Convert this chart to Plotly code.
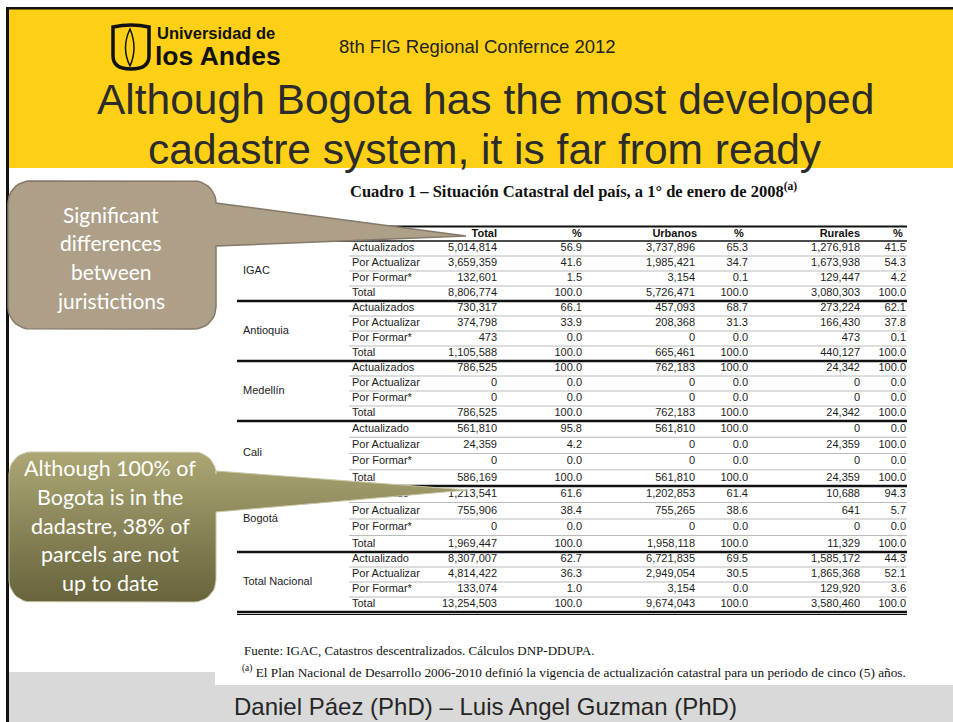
import numpy as np
import plotly.graph_objects as go

# ------------------------------------------------------------------ data
groups = ["IGAC", "Antioquia", "Medellín", "Cali", "Bogotá", "Total Nacional"]
row_labels = [
    ["Actualizados", "Por Actualizar", "Por Formar*", "Total"],
    ["Actualizados", "Por Actualizar", "Por Formar*", "Total"],
    ["Actualizados", "Por Actualizar", "Por Formar*", "Total"],
    ["Actualizado", "Por Actualizar", "Por Formar*", "Total"],
    ["Actualizado", "Por Actualizar", "Por Formar*", "Total"],
    ["Actualizado", "Por Actualizar", "Por Formar*", "Total"],
]
col_headers = ["Total", "%", "Urbanos", "%", "Rurales", "%"]

total_vals = [5014814, 3659359, 132601, 8806774,
              730317, 374798, 473, 1105588,
              786525, 0, 0, 786525,
              561810, 24359, 0, 586169,
              1213541, 755906, 0, 1969447,
              8307007, 4814422, 133074, 13254503]
total_pct = [56.9, 41.6, 1.5, 100.0,
             66.1, 33.9, 0.0, 100.0,
             100.0, 0.0, 0.0, 100.0,
             95.8, 4.2, 0.0, 100.0,
             61.6, 38.4, 0.0, 100.0,
             62.7, 36.3, 1.0, 100.0]
urban_vals = [3737896, 1985421, 3154, 5726471,
              457093, 208368, 0, 665461,
              762183, 0, 0, 762183,
              561810, 0, 0, 561810,
              1202853, 755265, 0, 1958118,
              6721835, 2949054, 3154, 9674043]
urban_pct = [65.3, 34.7, 0.1, 100.0,
             68.7, 31.3, 0.0, 100.0,
             100.0, 0.0, 0.0, 100.0,
             100.0, 0.0, 0.0, 100.0,
             61.4, 38.6, 0.0, 100.0,
             69.5, 30.5, 0.0, 100.0]
rural_vals = [1276918, 1673938, 129447, 3080303,
              273224, 166430, 473, 440127,
              24342, 0, 0, 24342,
              0, 24359, 0, 24359,
              10688, 641, 0, 11329,
              1585172, 1865368, 129920, 3580460]
rural_pct = [41.5, 54.3, 4.2, 100.0,
             62.1, 37.8, 0.1, 100.0,
             100.0, 0.0, 0.0, 100.0,
             0.0, 100.0, 0.0, 100.0,
             94.3, 5.7, 0.0, 100.0,
             44.3, 52.1, 3.6, 100.0]

slide_title = ["Although Bogota has the most developed",
               "cadastre system, it is far from ready"]
conference = "8th FIG Regional Confernce 2012"
table_title = "Cuadro 1 – Situación Catastral del país, a 1° de enero de 2008"
footnotes = ["Fuente: IGAC, Catastros descentralizados. Cálculos DNP-DDUPA.",
             "El Plan Nacional de Desarrollo 2006-2010 definió la vigencia de actualización catastral para un periodo de cinco (5) años."]
callout1 = ["Significant", "differences", "between", "juristictions"]
callout2 = ["Although 100% of", "Bogota is in the", "dadastre, 38% of",
            "parcels are not", "up to date"]
authors = "Daniel Páez (PhD) – Luis Angel Guzman (PhD)"

# ------------------------------------------------------------------ layout constants
W, H = 953, 722
group_bounds = [241, 301, 361, 421, 486, 552, 612]
col_right = [497, 582, 695, 748, 860, 906]
hdr_x = [497, 572, 697, 734, 860, 893]
hdr_pos = ["middle left", "middle right", "middle left", "middle right", "middle left", "middle right"]
hdr_y = 234
x_group, x_row = 243, 352
tbl_x0, tbl_x1 = 237, 907

SANS = "Liberation Sans, Arial, sans-serif"
SERIF = "Liberation Serif, Times New Roman, serif"
CALLOUT_FONT = "Lato, Carlito, Calibri, Open Sans, sans-serif"
YELLOW = "#FDD016"

# row centres derived from group boundaries
row_y, grp_y = [], []
for g in range(len(groups)):
    b0, b1 = group_bounds[g], group_bounds[g + 1]
    h = (b1 - b0) / len(row_labels[g])
    row_y += [b0 + (j + 0.5) * h for j in range(len(row_labels[g]))]
    grp_y.append((b0 + b1) / 2)
flat_labels = [lab for grp in row_labels for lab in grp]

fig = go.Figure()

# ------------------------------------------------------------------ background shapes
shapes = [
    dict(type="rect", x0=8, x1=W, y0=9, y1=168, fillcolor=YELLOW, line_width=0, layer="below"),
    dict(type="rect", x0=9, x1=W, y0=672, y1=H, fillcolor="#D9D9D9", line_width=0, layer="below"),
    dict(type="rect", x0=215, x1=W, y0=168, y1=685, fillcolor="#FFFFFF", line_width=0, layer="below"),
    dict(type="rect", x0=6, x1=W, y0=7, y1=9.5, fillcolor="#111111", line_width=0, layer="below"),
    dict(type="rect", x0=6, x1=9, y0=7, y1=H, fillcolor="#111111", line_width=0, layer="below"),
]
# logo icon
shapes.append(dict(type="path",
                   path="M 113 27 Q 131 23 149 27 L 149 56 Q 149 69 131 69 Q 113 69 113 56 Z",
                   line=dict(color="#111111", width=3.5), fillcolor="rgba(0,0,0,0)", layer="above"))
shapes.append(dict(type="path",
                   path="M 130 29 Q 121 48 130 66 Q 138 48 130 29 Z",
                   line=dict(color="#111111", width=1.5), fillcolor="rgba(0,0,0,0)", layer="above"))

# table rules
shapes.append(dict(type="line", x0=tbl_x0, x1=tbl_x1, y0=226.5, y1=226.5,
                   line=dict(color="#111111", width=2), layer="below"))
for k, b in enumerate(group_bounds):
    w = 1.5 if k == 0 else 2.5
    shapes.append(dict(type="line", x0=tbl_x0, x1=tbl_x1, y0=b, y1=b,
                       line=dict(color="#111111", width=w), layer="below"))
shapes.append(dict(type="line", x0=tbl_x0, x1=tbl_x1, y0=group_bounds[-1] + 2.5, y1=group_bounds[-1] + 2.5,
                   line=dict(color="#111111", width=1), layer="below"))
for g in range(len(groups)):
    b0, b1 = group_bounds[g], group_bounds[g + 1]
    n = len(row_labels[g])
    h = (b1 - b0) / n
    for j in range(1, n):
        yy = b0 + j * h
        shapes.append(dict(type="line", x0=349, x1=tbl_x1, y0=yy, y1=yy,
                           line=dict(color="#BBBBBB", width=1), layer="below"))

# ------------------------------------------------------------------ table text (traces)
txt_color = "#1C1C1C"
fig.add_trace(go.Scatter(x=[x_group] * len(groups), y=grp_y, text=groups, mode="text",
                         textposition="middle right",
                         textfont=dict(family=SANS, size=11, color=txt_color),
                         hoverinfo="skip", showlegend=False))
fig.add_trace(go.Scatter(x=[x_row] * len(flat_labels), y=row_y, text=flat_labels, mode="text",
                         textposition="middle right",
                         textfont=dict(family=SANS, size=11, color=txt_color),
                         hoverinfo="skip", showlegend=False))

columns = [
    [f"{v:,}" for v in total_vals],
    [f"{v:.1f}" for v in total_pct],
    [f"{v:,}" for v in urban_vals],
    [f"{v:.1f}" for v in urban_pct],
    [f"{v:,}" for v in rural_vals],
    [f"{v:.1f}" for v in rural_pct],
]
for k, col in enumerate(columns):
    fig.add_trace(go.Scatter(x=[col_right[k]] * len(col), y=row_y, text=col, mode="text",
                             textposition="middle left",
                             textfont=dict(family=SANS, size=11, color=txt_color),
                             hoverinfo="skip", showlegend=False))

fig.add_trace(go.Scatter(x=hdr_x, y=[hdr_y] * len(col_headers),
                         text=[f"<b>{c}</b>" for c in col_headers], mode="text",
                         textposition=hdr_pos,
                         textfont=dict(family=SANS, size=11, color="#111111"),
                         hoverinfo="skip", showlegend=False))


# ------------------------------------------------------------------ callouts
def callout_path(x0, y0, x1, y1, r, py0, py1, tip, n=10):
    pts = []

    def arc(cx, cy, a0, a1):
        for t in np.linspace(a0, a1, n):
            pts.append((cx + r * np.cos(t), cy + r * np.sin(t)))

    arc(x0 + r, y0 + r, np.pi, 1.5 * np.pi)
    arc(x1 - r, y0 + r, 1.5 * np.pi, 2 * np.pi)
    pts.append((x1, py0))
    pts.append(tip)
    pts.append((x1, py1))
    arc(x1 - r, y1 - r, 0, 0.5 * np.pi)
    arc(x0 + r, y1 - r, 0.5 * np.pi, np.pi)
    pts.append(pts[0])
    xs, ys = zip(*pts)
    return list(xs), list(ys)


cx1, cy1 = callout_path(8, 181, 216, 329, 22, 203, 246, (466, 236))
fig.add_trace(go.Scatter(x=cx1, y=cy1, mode="lines", fill="toself",
                         fillcolor="#AE9F89", line=dict(color="#85796A", width=1.5),
                         hoverinfo="skip", showlegend=False))
cx2, cy2 = callout_path(9, 452, 216, 602, 22, 471, 512, (468, 490))
fig.add_trace(go.Scatter(x=cx2, y=cy2, mode="lines", fill="toself",
                         fillgradient=dict(type="vertical",
                                           colorscale=[[0, "#ACA774"], [1, "#67633C"]],
                                           start=452, stop=602),
                         line=dict(color="#C9C6A6", width=1),
                         hoverinfo="skip", showlegend=False))

# ------------------------------------------------------------------ annotations (text)
ann = []
ann.append(dict(x=155, y=33, text="<b>Universidad de</b>", xanchor="left", yanchor="middle",
                font=dict(family=SANS, size=16.5, color="#111111")))
ann.append(dict(x=153, y=56, text="<b>los Andes</b>", xanchor="left", yanchor="middle",
                font=dict(family=SANS, size=26.5, color="#111111")))
ann.append(dict(x=337, y=46, text=conference, xanchor="left", yanchor="middle",
                font=dict(family=SANS, size=18.5, color="#222222")))
for i, line in enumerate(slide_title):
    ann.append(dict(x=485, y=99 + 50 * i, text=line, xanchor="center", yanchor="middle",
                    font=dict(family=SANS, size=42.5, color="#2B2B2B")))
ann.append(dict(x=573, y=190, text=f"<b>{table_title}<sup>(a)</sup></b>",
                xanchor="center", yanchor="middle",
                font=dict(family=SERIF, size=16.5, color="#111111")))
ann.append(dict(x=242, y=650, text=footnotes[0], xanchor="left", yanchor="middle",
                font=dict(family=SERIF, size=13, color="#111111")))
ann.append(dict(x=240, y=671, text=f"<sup>(a)</sup> {footnotes[1]}", xanchor="left", yanchor="middle",
                font=dict(family=SERIF, size=13.3, color="#111111")))
for i, line in enumerate(callout1):
    ann.append(dict(x=111, y=214 + 28.7 * i, text=line, xanchor="center", yanchor="middle",
                    font=dict(family=CALLOUT_FONT, size=21, color="#FFFFFF")))
for i, line in enumerate(callout2):
    ann.append(dict(x=110, y=468 + 28.8 * i, text=line, xanchor="center", yanchor="middle",
                    font=dict(family=CALLOUT_FONT, size=21.5, color="#FFFFFF")))
ann.append(dict(x=485, y=706, text=authors, xanchor="center", yanchor="middle",
                font=dict(family=SANS, size=24, color="#262626")))
for a in ann:
    a.update(xref="x", yref="y", showarrow=False)

fig.update_layout(
    width=W, height=H, autosize=False,
    margin=dict(l=0, r=0, t=0, b=0, pad=0),
    paper_bgcolor="#FFFFFF", plot_bgcolor="#FFFFFF",
    xaxis=dict(range=[0, W], visible=False, fixedrange=True),
    yaxis=dict(range=[H, 0], visible=False, fixedrange=True),
    shapes=shapes, annotations=ann, showlegend=False,
)

fig.write_html("out.html", config={"displayModeBar": False, "staticPlot": True},
               post_script="document.body.style.margin='0px';document.body.style.overflow='hidden';")
